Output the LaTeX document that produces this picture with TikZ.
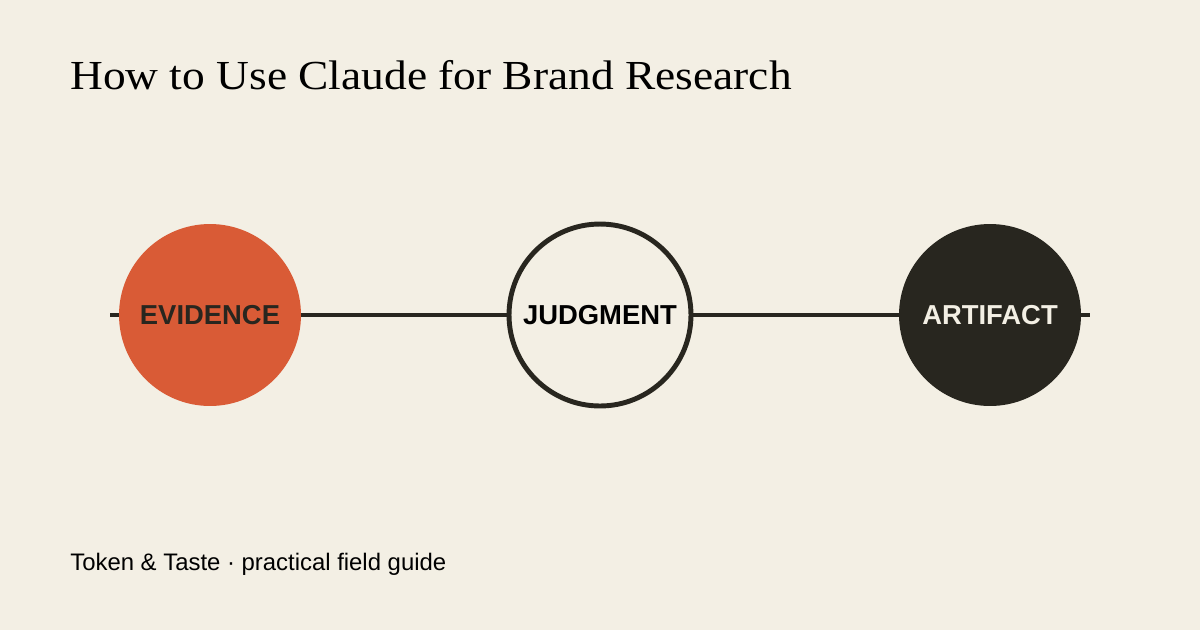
\documentclass[tikz,border=0pt]{standalone}
\usepackage{fontspec}
\setmainfont{Liberation Serif}
\setsansfont{Liberation Sans}
\newfontfamily\titlefont[FakeStretch=1.1]{Liberation Serif}
\definecolor{paper}{HTML}{F3EFE4}
\definecolor{ember}{HTML}{D95B36}
\definecolor{ink}{HTML}{28261F}
\tikzset{
	stage/.style={circle,minimum size=3.64cm,inner sep=0pt,font=\sffamily\bfseries\fontsize{15.6}{17}\selectfont},
}
\begin{document}
\begin{tikzpicture}[x=0.02cm,y=-0.02cm]
	\fill[paper] (0,0) rectangle (1200,630);
	\useasboundingbox (0,0) rectangle (1200,630);
	
	\node[anchor=base west,font=\titlefont\fontsize{23.5}{26}\selectfont,text=black,inner sep=0pt] (title) at (70,89) {How to Use Claude for Brand Research};
	
	\coordinate (lstart) at (110,315);
	\coordinate (lend) at (1090,315);
	\draw[ink,line width=2.8pt] (lstart) -- (lend);
	
	\node[stage,fill=ember,text=ink] (evidence) at (210,315) {EVIDENCE};
	\node[stage,fill=paper,draw=ink,line width=2.8pt,text=black] (judgment) at (600,315) {JUDGMENT};
	\node[stage,fill=ink,text=paper] (artifact) at (990,315) {ARTIFACT};
	
	\node[anchor=base west,font=\sffamily\fontsize{13.6}{15}\selectfont,text=black,inner sep=0pt] (footer) at (70,570) {Token \& Taste · practical field guide};
\end{tikzpicture}
\end{document}
